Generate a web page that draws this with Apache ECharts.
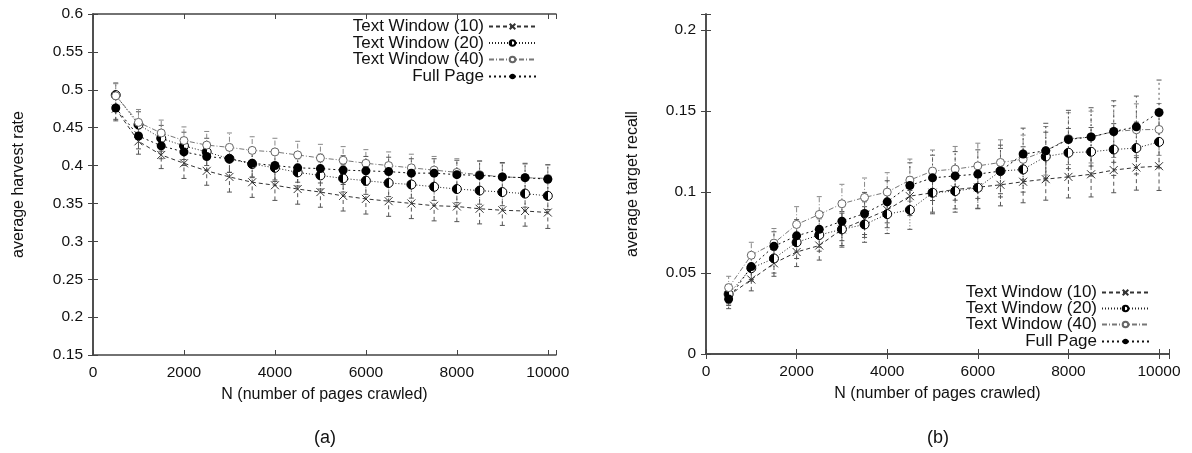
<!DOCTYPE html>
<html lang="en">
<head>
    <meta charset="UTF-8">
    <title>harvest rate / target recall</title>
    <script src="https://cdn.jsdelivr.net/npm/echarts@6/dist/echarts.min.js"></script>
</head>
<body style="margin:0">
<div id="main" style="width: 1192px;height:453px;"></div>

<script>
    // pages crawled
    var N = [500, 1000, 1500, 2000, 2500, 3000, 3500, 4000, 4500, 5000,
             5500, 6000, 6500, 7000, 7500, 8000, 8500, 9000, 9500, 10000];
    var names = ['Text Window (10)', 'Text Window (20)', 'Text Window (40)', 'Full Page'];

    // (a) average harvest rate
    var harvestTW10 = [0.475, 0.432, 0.414, 0.403, 0.393, 0.385, 0.378, 0.374, 0.369, 0.365,
                       0.360, 0.356, 0.353, 0.350, 0.347, 0.346, 0.343, 0.341, 0.340, 0.338];
    var harvestTW20 = [0.493, 0.454, 0.436, 0.426, 0.418, 0.409, 0.402, 0.397, 0.391, 0.387,
                       0.383, 0.380, 0.377, 0.375, 0.372, 0.369, 0.367, 0.365, 0.363, 0.360];
    var harvestTW40 = [0.492, 0.457, 0.443, 0.433, 0.427, 0.424, 0.420, 0.418, 0.414, 0.410,
                       0.407, 0.403, 0.400, 0.397, 0.394, 0.391, 0.388, 0.385, 0.384, 0.383];
    var harvestFP   = [0.476, 0.439, 0.426, 0.418, 0.412, 0.409, 0.403, 0.400, 0.397, 0.396,
                       0.394, 0.393, 0.392, 0.390, 0.390, 0.388, 0.387, 0.385, 0.384, 0.382];
    // error bar half widths
    var harvestErrTW10 = [0.016, 0.017, 0.018, 0.020, 0.019, 0.020, 0.020, 0.020, 0.020, 0.020,
                          0.020, 0.020, 0.020, 0.020, 0.020, 0.020, 0.020, 0.020, 0.020, 0.021];
    var harvestErrTW20 = [0.016, 0.017, 0.017, 0.018, 0.018, 0.018, 0.018, 0.018, 0.018, 0.018,
                          0.018, 0.018, 0.018, 0.018, 0.018, 0.018, 0.018, 0.018, 0.018, 0.018];
    var harvestErrTW40 = [0.016, 0.017, 0.017, 0.018, 0.018, 0.019, 0.018, 0.018, 0.018, 0.018,
                          0.018, 0.018, 0.018, 0.018, 0.018, 0.018, 0.018, 0.018, 0.018, 0.018];
    var harvestErrFP   = [0.015, 0.017, 0.017, 0.018, 0.018, 0.018, 0.018, 0.019, 0.019, 0.019,
                          0.019, 0.019, 0.019, 0.019, 0.019, 0.019, 0.019, 0.019, 0.019, 0.019];

    // (b) average target recall
    var recallTW10 = [0.036, 0.046, 0.056, 0.063, 0.067, 0.077, 0.083, 0.089, 0.0975, 0.0996,
                      0.1016, 0.103, 0.1045, 0.1064, 0.108, 0.1094, 0.111, 0.1136, 0.1152, 0.116];
    var recallTW20 = [0.037, 0.053, 0.059, 0.069, 0.0735, 0.077, 0.080, 0.0864, 0.089, 0.0996,
                      0.1006, 0.1027, 0.113, 0.114, 0.122, 0.1243, 0.1249, 0.1263, 0.1272, 0.131];
    var recallTW40 = [0.041, 0.061, 0.0685, 0.080, 0.0862, 0.0928, 0.0967, 0.100, 0.1074, 0.113,
                      0.1142, 0.1162, 0.1183, 0.1202, 0.1255, 0.133, 0.134, 0.1374, 0.1385, 0.1387];
    var recallFP   = [0.034, 0.054, 0.0665, 0.073, 0.077, 0.082, 0.0868, 0.094, 0.1041, 0.1088,
                      0.110, 0.1111, 0.113, 0.1235, 0.1255, 0.1325, 0.1341, 0.1374, 0.1403, 0.1492];
    var recallErrTW10 = [0.006, 0.007, 0.008, 0.009, 0.009, 0.010, 0.011, 0.011, 0.012, 0.012,
                         0.012, 0.013, 0.013, 0.013, 0.013, 0.013, 0.014, 0.014, 0.014, 0.015];
    var recallErrTW20 = [0.006, 0.008, 0.009, 0.010, 0.010, 0.011, 0.011, 0.012, 0.012, 0.013,
                         0.013, 0.013, 0.014, 0.014, 0.015, 0.015, 0.015, 0.016, 0.016, 0.016];
    var recallErrTW40 = [0.007, 0.008, 0.009, 0.011, 0.011, 0.012, 0.012, 0.012, 0.013, 0.013,
                         0.014, 0.014, 0.014, 0.015, 0.015, 0.016, 0.016, 0.016, 0.016, 0.016];
    var recallErrFP   = [0.006, 0.008, 0.009, 0.010, 0.011, 0.012, 0.013, 0.013, 0.014, 0.014,
                         0.015, 0.015, 0.016, 0.016, 0.017, 0.018, 0.018, 0.019, 0.019, 0.020];

    var FONT = 'Liberation Sans, Arial, sans-serif';
    var AXIS_COLOR = '#444';

    // per-series look: line dash, line colour, marker
    var halfFill = {
        type: 'linear', x: 0, y: 0, x2: 1, y2: 0,
        colorStops: [{offset: 0, color: '#000'}, {offset: 0.5, color: '#000'},
                     {offset: 0.5, color: '#fff'}, {offset: 1, color: '#fff'}]
    };
    var looks = [
        {dash: [4, 3], color: '#333', symbol: 'path://M0,0L10,10M10,0L0,10', size: 8,
         item: {color: '#333', borderColor: '#333', borderWidth: 1}},
        {dash: [1, 2], color: '#222', symbol: 'circle', size: 9,
         item: {color: halfFill, borderColor: '#000', borderWidth: 1}},
        {dash: [5, 2, 1, 2], color: '#777', symbol: 'circle', size: 8,
         item: {color: '#fff', borderColor: '#666', borderWidth: 1}},
        {dash: [2, 3], color: '#111', symbol: 'circle', size: 9,
         item: {color: '#000', borderColor: '#000', borderWidth: 0}}
    ];

    function errBars(color, dash) {
        return function (params, api) {
            var x = api.value(0);
            var lo = api.coord([x, api.value(1)]);
            var hi = api.coord([x, api.value(2)]);
            var w = 2.5;
            return {
                type: 'group',
                children: [
                    {type: 'line', shape: {x1: lo[0], y1: lo[1], x2: hi[0], y2: hi[1]},
                     style: {stroke: color, lineWidth: 1, lineDash: dash}},
                    {type: 'line', shape: {x1: lo[0] - w, y1: lo[1], x2: lo[0] + w, y2: lo[1]},
                     style: {stroke: color, lineWidth: 1}},
                    {type: 'line', shape: {x1: hi[0] - w, y1: hi[1], x2: hi[0] + w, y2: hi[1]},
                     style: {stroke: color, lineWidth: 1}}
                ]
            };
        };
    }

    function addPanel(series, axisIdx, values, errs) {
        for (var k = 0; k < values.length; k++) {
            var lk = looks[k];
            var pts = [], bars = [];
            for (var i = 0; i < N.length; i++) {
                pts.push([N[i], values[k][i]]);
                bars.push([N[i], values[k][i] - errs[k][i], values[k][i] + errs[k][i]]);
            }
            series.push({
                name: names[k] + ' err' + axisIdx,
                type: 'custom',
                xAxisIndex: axisIdx * 2,
                yAxisIndex: axisIdx * 2,
                z: 1,
                silent: true,
                encode: {x: 0, y: [1, 2]},
                renderItem: errBars(lk.color === '#777' ? '#888' : '#555', lk.dash),
                data: bars
            });
            series.push({
                name: names[k],
                type: 'line',
                xAxisIndex: axisIdx * 2,
                yAxisIndex: axisIdx * 2,
                z: 2,
                symbol: lk.symbol,
                symbolSize: lk.size,
                showAllSymbol: true,
                lineStyle: {color: lk.color, width: 1, type: lk.dash},
                itemStyle: lk.item,
                data: pts
            });
        }
    }

    function xAxes(grid, max) {
        var base = {
            type: 'value', gridIndex: grid, min: 0, max: max, interval: 2000,
            axisLine: {show: true, lineStyle: {color: AXIS_COLOR, width: 1.5}},
            axisTick: {show: true, inside: true, length: 5, lineStyle: {color: AXIS_COLOR}},
            splitLine: {show: false}
        };
        var bottom = echarts.util.merge({
            position: 'bottom',
            name: 'N (number of pages crawled)',
            nameLocation: 'middle',
            nameGap: 32,
            nameTextStyle: {fontFamily: FONT, fontSize: 16, color: '#111'},
            axisLabel: {
                fontFamily: FONT, fontSize: 15.5, color: '#111', margin: 10,
                formatter: function (v) { return v % 2000 === 0 ? String(v) : ''; }
            }
        }, base, true);
        var top = echarts.util.merge({position: 'top', axisLabel: {show: false}}, base, true);
        return [bottom, top];
    }

    function yAxes(grid, min, max, name, gap) {
        var base = {
            type: 'value', gridIndex: grid, min: min, max: max, interval: 0.05,
            axisLine: {show: true, lineStyle: {color: AXIS_COLOR, width: 1.5}},
            axisTick: {show: true, inside: true, length: 5, lineStyle: {color: AXIS_COLOR}},
            splitLine: {show: false}
        };
        var left = echarts.util.merge({
            position: 'left',
            name: name,
            nameLocation: 'middle',
            nameGap: gap,
            nameTextStyle: {fontFamily: FONT, fontSize: 16, color: '#111'},
            axisLabel: {
                fontFamily: FONT, fontSize: 15.5, color: '#111', margin: 10,
                formatter: function (v) {
                    var r = Math.round(v * 100) / 100;
                    return Math.abs(r * 20 - Math.round(r * 20)) < 1e-6 && Math.abs(r - v) < 1e-6 ? String(r) : '';
                }
            }
        }, base, true);
        var right = echarts.util.merge({position: 'right', axisLabel: {show: false}}, base, true);
        return [left, right];
    }

    function legends(rightPos, tops) {
        var out = [];
        for (var k = 0; k < names.length; k++) {
            out.push({
                data: [names[k]],
                right: rightPos,
                top: tops[k],
                align: 'right',
                padding: 0,
                itemWidth: 47,
                itemHeight: 7,
                selectedMode: false,
                textStyle: {fontFamily: FONT, fontSize: 17, color: '#111'}
            });
        }
        return out;
    }

    var chart = echarts.init(document.getElementById('main'));
    var series = [];
    addPanel(series, 0, [harvestTW10, harvestTW20, harvestTW40, harvestFP],
        [harvestErrTW10, harvestErrTW20, harvestErrTW40, harvestErrFP]);
    addPanel(series, 1, [recallTW10, recallTW20, recallTW40, recallFP],
        [recallErrTW10, recallErrTW20, recallErrTW40, recallErrFP]);

    var option = {
        animation: false,
        backgroundColor: '#fff',
        grid: [
            {left: 93, top: 14, width: 463, height: 341},
            {left: 706, top: 14, width: 463, height: 340}
        ],
        xAxis: xAxes(0, 10180).concat(xAxes(1, 10220)),
        yAxis: yAxes(0, 0.15, 0.6, 'average harvest rate', 66)
            .concat(yAxes(1, 0, 0.21, 'average target recall', 65)),
        legend: legends(655, [18, 34.5, 51, 68]).concat(legends(42, [284, 300, 316, 333])),
        graphic: [
            {type: 'text', x: 325, y: 438, style: {text: '(a)', font: '18px ' + FONT, fill: '#111',
                align: 'center', verticalAlign: 'middle'}},
            {type: 'text', x: 938, y: 438, style: {text: '(b)', font: '18px ' + FONT, fill: '#111',
                align: 'center', verticalAlign: 'middle'}}
        ],
        series: series
    };
    chart.setOption(option);
</script>
</body>
</html>
